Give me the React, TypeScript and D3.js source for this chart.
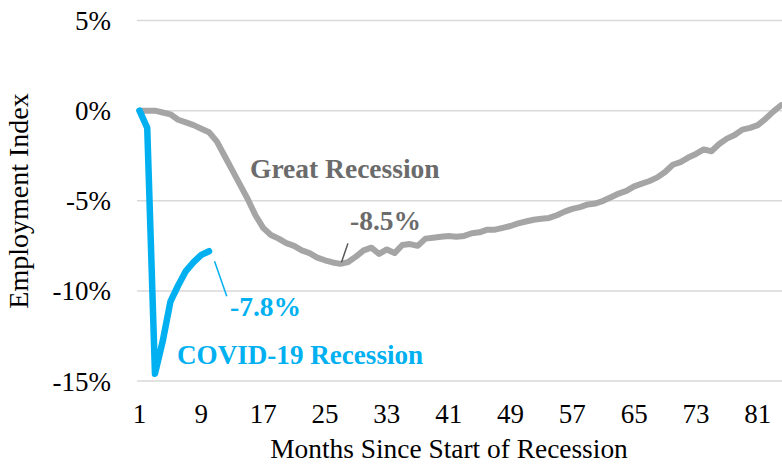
import React from "react";
import * as d3 from "d3";

const months: number[] = d3.range(1, 85);

const greatRecession: number[] = [
  0, 0, 0, -0.1, -0.2, -0.5, -0.65, -0.8, -1.0, -1.2,
  -1.7, -2.5, -3.3, -4.1, -4.9, -5.8, -6.5, -6.9, -7.1, -7.35,
  -7.5, -7.75, -7.9, -8.15, -8.3, -8.42, -8.5, -8.4, -8.1, -7.75,
  -7.6, -7.95, -7.7, -7.9, -7.45, -7.4, -7.5, -7.1, -7.05, -7.0,
  -6.95, -7.0, -6.95, -6.8, -6.75, -6.6, -6.6, -6.5, -6.4, -6.25,
  -6.15, -6.05, -6.0, -5.95, -5.8, -5.6, -5.45, -5.35, -5.2, -5.15,
  -5.0, -4.8, -4.6, -4.45, -4.2, -4.05, -3.9, -3.7, -3.4, -3.0,
  -2.85, -2.6, -2.4, -2.15, -2.25, -1.85, -1.55, -1.35, -1.05, -0.95,
  -0.8, -0.45, -0.05, 0.3,
];

const covid: number[] = [0, -0.95, -14.6, -12.8, -10.6, -9.7, -8.9, -8.4, -8.0, -7.8];

const yTicks: number[] = [5, 0, -5, -10, -15];
const xTicks: number[] = [1, 9, 17, 25, 33, 41, 49, 57, 65, 73, 81];

const W = 782;
const H = 465;
const FONT = "'Liberation Serif', 'Times New Roman', serif";
const GRAY = "#A5A5A5";
const BLUE = "#00B0F0";
const LABEL_GRAY = "#6B6B6B";

export default function App() {
  const x = d3.scaleLinear().domain([1, 84]).range([139.5, 781]);
  const y = d3.scaleLinear().domain([-15, 5]).range([381, 20.6]);

  const line = d3
    .line<number>()
    .x((_, i) => x(months[i]))
    .y((d) => y(d));

  const grPath = line(greatRecession) || "";
  const cvPath = line(covid) || "";

  const grMinIdx = greatRecession.indexOf(d3.min(greatRecession) as number);
  const cvLastIdx = covid.length - 1;

  return (
    <svg
      width={W}
      height={H}
      style={{ position: "absolute", left: 0, top: 0, background: "#fff" }}
      fontFamily={FONT}
    >
      {yTicks.map((t) => (
        <g key={t}>
          <line x1={137} x2={W} y1={y(t)} y2={y(t)} stroke="#D9D9D9" strokeWidth={1.5} />
          <text x={111} y={y(t) + 9.5} textAnchor="end" fontSize={27} fill="#000">
            {`${t}%`}
          </text>
        </g>
      ))}
      {xTicks.map((t) => (
        <text key={t} x={x(t)} y={423} textAnchor="middle" fontSize={27} fill="#000">
          {t}
        </text>
      ))}
      <text x={449} y={458} textAnchor="middle" fontSize={27.4} fill="#000">
        Months Since Start of Recession
      </text>
      <text
        transform={`translate(28, 201) rotate(-90)`}
        textAnchor="middle"
        fontSize={28}
        fill="#000"
      >
        Employment Index
      </text>

      <path d={grPath} fill="none" stroke={GRAY} strokeWidth={6} strokeLinejoin="round" strokeLinecap="round" />
      <path d={cvPath} fill="none" stroke={BLUE} strokeWidth={6.5} strokeLinejoin="round" strokeLinecap="round" />

      {/* Great Recession labels */}
      <text x={250} y={178} fontSize={27.5} fontWeight="bold" fill={LABEL_GRAY}>
        Great Recession
      </text>
      <line
        x1={x(months[grMinIdx]) + 7.5}
        y1={y(greatRecession[grMinIdx]) - 20.5}
        x2={x(months[grMinIdx]) + 1}
        y2={y(greatRecession[grMinIdx]) - 1.5}
        stroke="#555"
        strokeWidth={1.5}
      />
      <text x={350} y={230} fontSize={27.5} fontWeight="bold" fill={LABEL_GRAY}>
        -8.5%
      </text>

      {/* COVID labels */}
      <line
        x1={x(months[cvLastIdx]) + 5.5}
        y1={y(covid[cvLastIdx]) + 10}
        x2={x(months[cvLastIdx]) + 17.7}
        y2={y(covid[cvLastIdx]) + 45}
        stroke={BLUE}
        strokeWidth={1.5}
      />
      <text x={230} y={315.5} fontSize={27.5} fontWeight="bold" fill={BLUE}>
        -7.8%
      </text>
      <text x={177} y={364} fontSize={27.1} fontWeight="bold" fill={BLUE}>
        COVID-19 Recession
      </text>
    </svg>
  );
}
